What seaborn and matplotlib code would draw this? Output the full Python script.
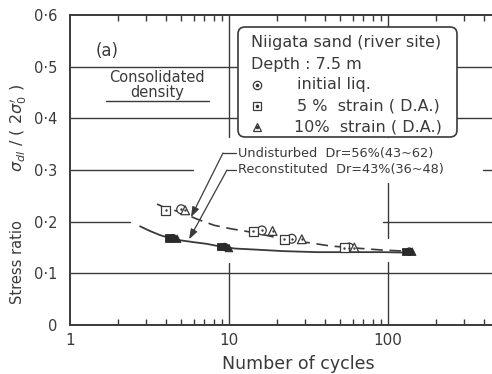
import numpy as np
import pandas as pd
import matplotlib
matplotlib.use("Agg")
import matplotlib.pyplot as plt
from matplotlib.patches import FancyBboxPatch
from matplotlib.lines import Line2D
from matplotlib.ticker import LogLocator, NullFormatter, FixedLocator
import seaborn as sns

# ---- data -------------------------------------------------------------
criteria = ["initial liq.", "5% strain", "10% strain"]

# Undisturbed samples (open symbols)
und_init_n = [5.0, 16.1, 24.8, 57.0]
und_init_r = [0.224, 0.183, 0.167, 0.150]
und_5_n = [4.0, 14.2, 22.3, 53.0]
und_5_r = [0.222, 0.181, 0.166, 0.150]
und_10_n = [5.3, 18.8, 28.7, 61.4]
und_10_r = [0.222, 0.182, 0.166, 0.150]

# Reconstituted samples (filled symbols)
rec_init_n = [4.45, 9.4, 136.0]
rec_init_r = [0.168, 0.151, 0.142]
rec_5_n = [4.2, 8.9, 130.0]
rec_5_r = [0.168, 0.152, 0.142]
rec_10_n = [4.72, 10.0, 142.0]
rec_10_r = [0.167, 0.149, 0.142]

# Fitted strength curves
und_curve_n = [3.53, 4.02, 4.92, 6.29, 8.05, 10.4, 13.6, 18.1, 24.2, 32.3, 43.2, 62.0, 93.0, 128.0]
und_curve_r = [0.234, 0.226, 0.219, 0.205, 0.193, 0.186, 0.180, 0.172, 0.164, 0.159, 0.153, 0.149, 0.145, 0.143]
rec_curve_n = [2.76, 3.18, 3.68, 4.26, 4.92, 6.11, 7.27, 8.78, 10.9, 14.6, 21.9, 35.7, 57.7, 93.0, 137.0]
rec_curve_r = [0.191, 0.182, 0.174, 0.168, 0.164, 0.160, 0.157, 0.152, 0.148, 0.146, 0.143, 0.141, 0.141, 0.141, 0.140]

y_ticks = [0, 0.1, 0.2, 0.3, 0.4, 0.5, 0.6]
y_tick_labels = ["0", "0·1", "0·2", "0·3", "0·4", "0·5", "0·6"]
x_ticks = [1, 10, 100]
x_tick_labels = ["1", "10", "100"]

# ---- tables -----------------------------------------------------------
def frame(ns, rs, crit):
    return pd.DataFrame({"cycles": ns, "ratio": rs, "criterion": crit})

und = pd.concat([frame(und_init_n, und_init_r, criteria[0]),
                 frame(und_5_n, und_5_r, criteria[1]),
                 frame(und_10_n, und_10_r, criteria[2])], ignore_index=True)
rec = pd.concat([frame(rec_init_n, rec_init_r, criteria[0]),
                 frame(rec_5_n, rec_5_r, criteria[1]),
                 frame(rec_10_n, rec_10_r, criteria[2])], ignore_index=True)

# ---- style ------------------------------------------------------------
sns.set_theme(style="white")
plt.rcParams["font.family"] = ["DejaVu Sans"]
plt.rcParams["mathtext.fontset"] = "dejavusans"
ink = "#3a3a3a"

W, H = 492, 374
fig = plt.figure(figsize=(W / 100, H / 100), dpi=100)
fig.patch.set_facecolor("white")

L, R, T, B = 70, 492, 15, 325
ax = fig.add_axes([L / W, 1 - B / H, (R - L) / W, (B - T) / H])
ax.set_facecolor("white")
ax.set_xscale("log")
ax.set_xlim(1, 451)
ax.set_ylim(0, 0.6)

def fx(px):
    return (px - L) / (R - L)

def fy(py):
    return (B - py) / (B - T)

def pix(px, py):
    return (px / 100, (H - py) / 100)

# grid segments
ytr = ax.get_yaxis_transform()
xtr = ax.get_xaxis_transform()
gkw = dict(color=ink, lw=1.0, zorder=1)
for yv, segs in [(0.5, [(0, 1)]), (0.4, [(0, 1)]),
                 (0.3, [(0, fx(193)), (fx(483), 1)]),
                 (0.2, [(0, fx(130)), (fx(383), 1)]),
                 (0.1, [(0, 1)])]:
    for a, b in segs:
        ax.plot([a, b], [yv, yv], transform=ytr, **gkw)
for xv, segs in [(10, [(0, fy(263)), (fy(137), 1)]),
                 (100, [(0, fy(262)), (fy(238), fy(183)), (fy(137), 1)])]:
    for a, b in segs:
        ax.plot([xv, xv], [a, b], transform=xtr, **gkw)

# curves
sns.lineplot(x=und_curve_n, y=und_curve_r, ax=ax, color=ink, lw=1.2,
             linestyle=(0, (7, 4)), sort=True, zorder=3)
sns.lineplot(x=rec_curve_n, y=rec_curve_r, ax=ax, color=ink, lw=1.3,
             sort=True, zorder=3)

markers = {criteria[0]: "o", criteria[1]: "s", criteria[2]: "^"}
sns.scatterplot(data=und, x="cycles", y="ratio", style="criterion",
                markers=markers, color="white", edgecolor=ink, linewidth=0.9,
                s=40, legend=False, ax=ax, zorder=4)
sns.scatterplot(data=und, x="cycles", y="ratio", color=ink, marker="o",
                s=3, linewidth=0, legend=False, ax=ax, zorder=5)
sns.scatterplot(data=rec, x="cycles", y="ratio", style="criterion",
                markers=markers, color="#2a2a2a", edgecolor="#2a2a2a",
                linewidth=0.6, s=30, legend=False, ax=ax, zorder=4)

# axes frame and ticks
for side in ["left", "bottom", "top"]:
    ax.spines[side].set_visible(True)
    ax.spines[side].set_color(ink)
    ax.spines[side].set_linewidth(1.4)
ax.spines["right"].set_visible(False)

ax.xaxis.set_major_locator(FixedLocator(x_ticks))
ax.set_xticklabels(x_tick_labels)
ax.xaxis.set_minor_locator(LogLocator(base=10, subs=np.arange(2, 10)))
ax.xaxis.set_minor_formatter(NullFormatter())
ax.set_yticks(y_ticks)
ax.set_yticklabels(y_tick_labels)
ax.tick_params(axis="x", which="major", length=0, pad=6, labelsize=11, labelcolor=ink)
ax.tick_params(axis="x", which="minor", direction="in", length=4.5, width=1.0,
               color=ink, top=True, bottom=True)
ax.tick_params(axis="y", which="major", length=0, pad=9, labelsize=10.5, labelcolor=ink)
ax.set_xlabel("")
ax.set_ylabel("")

fig.text(298 / W, 1 - 364 / H, "Number of cycles", ha="center", va="center",
         fontsize=12.5, color=ink)
fig.text(18 / W, 1 - 262 / H, "Stress ratio", rotation=90, ha="center",
         va="center", fontsize=10.5, color=ink)
fig.text(18 / W, 1 - 128 / H, r"$\sigma_{dl}\ /\ (\ 2\sigma_0'\ )$",
         rotation=90, ha="center", va="center", fontsize=11.5, color=ink)

# panel texts
dst = fig.dpi_scale_trans
ax.text(*pix(107, 51), "(a)", transform=dst, ha="center", va="center",
        fontsize=12, color=ink)
ax.text(*pix(157, 77), "Consolidated", transform=dst, ha="center", va="center",
        fontsize=10.5, color=ink)
ax.text(*pix(157, 92), "density", transform=dst, ha="center", va="center",
        fontsize=10.5, color=ink)
fig.add_artist(Line2D([106 / 100, 209 / 100], [(H - 101) / 100] * 2,
                      transform=dst, color=ink, lw=1.0))

# key box
box = FancyBboxPatch(pix(238, 137), 219 / 100, 110 / 100,
                     boxstyle="round,pad=0,rounding_size=0.07",
                     transform=dst, facecolor="white", edgecolor=ink,
                     lw=1.2, zorder=6)
ax.add_artist(box)
tkw = dict(transform=dst, ha="left", va="center", fontsize=11.5, color=ink, zorder=7)
ax.text(*pix(251, 43), "Niigata sand (river site)", **tkw)
ax.text(*pix(251, 64), "Depth : 7.5 m", **tkw)
ax.text(*pix(297, 85), "initial liq.", **tkw)
ax.text(*pix(297, 106), "5 %  strain ( D.A.)", **tkw)
ax.text(*pix(294, 127), "10%  strain ( D.A.)", **tkw)
for py, mk in [(85, "o"), (106, "s"), (127, "^")]:
    ax.plot(*[[v] for v in pix(257, py)], transform=dst, marker=mk, ms=6,
            mfc="white", mec=ink, mew=0.9, ls="none", zorder=7)
    ax.plot(*[[v] for v in pix(257, py)], transform=dst, marker="o", ms=1.6,
            mfc=ink, mec=ink, ls="none", zorder=8)

# leader annotations
akw = dict(fontsize=9.3, color=ink, ha="left", va="center")
ax.text(*pix(238, 153), "Undisturbed  Dr=56%(43~62)", transform=dst, **akw)
ax.text(*pix(238, 170), "Reconstituted  Dr=43%(36~48)", transform=dst, **akw)
for (bx, by), (tx, ty) in [((223, 153), (5.77, 0.209)), ((227, 170), (5.61, 0.166))]:
    fig.add_artist(Line2D([bx / 100, 236 / 100], [(H - by) / 100] * 2,
                          transform=dst, color=ink, lw=0.9))
    ax.annotate("", xy=(tx, ty), xycoords="data",
                xytext=pix(bx, by), textcoords=dst,
                arrowprops=dict(arrowstyle="-|>,head_length=0.5,head_width=0.18",
                                color=ink, lw=0.9, shrinkA=0, shrinkB=0))

fig.savefig("out.png", dpi=100, facecolor="white")
